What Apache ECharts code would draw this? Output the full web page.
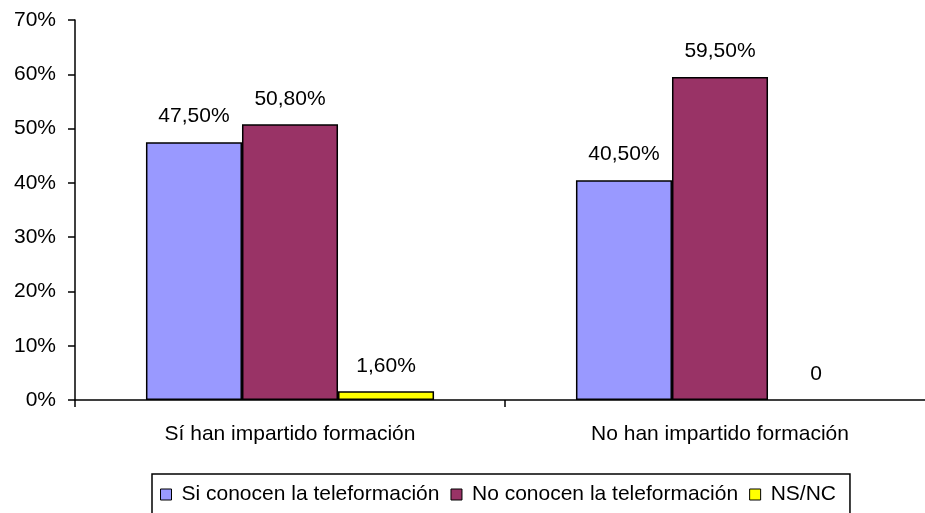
<!DOCTYPE html>
<html><head><meta charset="utf-8">
<script src="https://cdn.jsdelivr.net/npm/echarts@6/dist/echarts.min.js"></script>
<style>html,body{margin:0;padding:0;background:#fff;overflow:hidden;width:925px;height:513px}#c{width:935px;height:513px}</style>
</head><body><div id="c"></div>
<script>
const categories = ['Sí han impartido formación', 'No han impartido formación'];
const seriesNames = ['Si conocen la teleformación', 'No conocen la teleformación', 'NS/NC'];
const siConocen = [47.5, 40.5];
const noConocen = [50.8, 59.5];
const nsnc = [1.6, 0];
const yTicks = [0, 10, 20, 30, 40, 50, 60, 70];
const colors = ['#9999FF', '#993366', '#FFFF00'];

const FONT = 'Liberation Sans, Arial, sans-serif';
const FS = 21;
const fmt = p => p.value === 0 ? '0' : p.value.toFixed(2).replace('.', ',') + '%';
const chart = echarts.init(document.getElementById('c'));
const mk = (name, data, color) => ({
  name, type: 'bar',
  data: data.map(v => v === 0 ? { value: v, itemStyle: { borderWidth: 0 } } : v),
  barGap: '0%', barCategoryGap: '33%',
  itemStyle: { color, borderColor: '#000', borderWidth: 1.5 },
  label: { show: true, position: 'top', distance: 15, formatter: fmt,
    color: '#000', fontSize: FS, fontFamily: FONT },
  emphasis: { disabled: true }
});
chart.setOption({
  animation: false,
  grid: { left: 75, top: 20, right: 0, bottom: 113, containLabel: false },
  legend: {
    left: 152, top: 474,
    padding: [10, 14, 24, 8],
    borderColor: '#000', borderWidth: 1.5,
    itemWidth: 11, itemHeight: 11, itemGap: 11,
    icon: 'rect',
    itemStyle: { borderColor: '#000', borderWidth: 1 },
    textStyle: { fontSize: FS, fontFamily: FONT, color: '#000', padding: [0, 0, 0, 5] },
    data: seriesNames
  },
  xAxis: {
    type: 'category', data: categories,
    axisLine: { lineStyle: { color: '#000', width: 1.5 } },
    axisTick: { show: true, length: 7, lineStyle: { color: '#000', width: 1.5 } },
    axisLabel: { fontSize: FS, fontFamily: FONT, color: '#000', margin: 24 }
  },
  yAxis: {
    type: 'value', min: yTicks[0], max: yTicks[yTicks.length - 1], interval: 10,
    axisLine: { show: true, lineStyle: { color: '#000', width: 1.5 } },
    axisTick: { show: true, length: 7, lineStyle: { color: '#000', width: 1.5 } },
    splitLine: { show: false },
    axisLabel: { formatter: '{value}%', fontSize: FS, fontFamily: FONT, color: '#000', margin: 19 }
  },
  series: [
    mk(seriesNames[0], siConocen, colors[0]),
    mk(seriesNames[1], noConocen, colors[1]),
    mk(seriesNames[2], nsnc, colors[2])
  ]
});
</script></body></html>
